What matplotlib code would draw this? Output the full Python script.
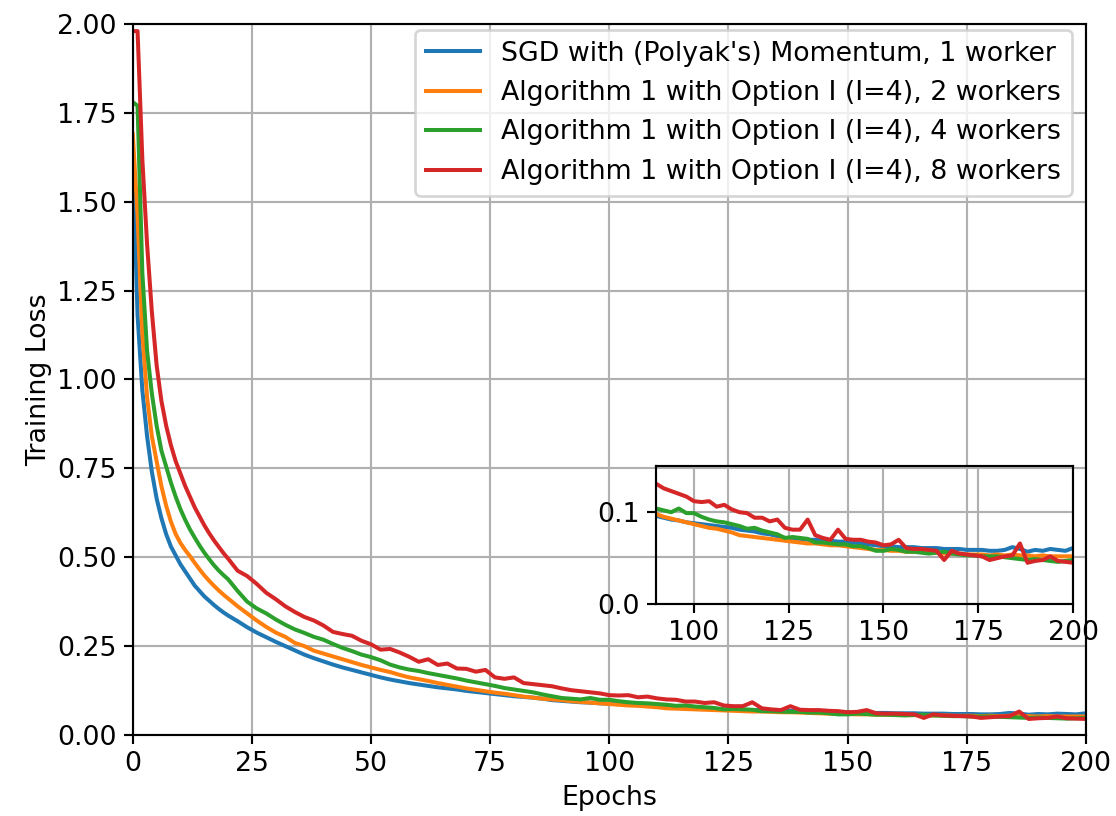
import matplotlib
matplotlib.use("Agg")
import matplotlib.pyplot as plt

# epochs: every epoch at the start, then every 2 epochs
epochs = list(range(0, 20)) + list(range(20, 201, 2))

loss_sgd = [1.63, 1.18, 0.97, 0.84, 0.74, 0.665, 0.61, 0.565, 0.53, 0.505,
            0.48, 0.46, 0.44, 0.42, 0.405, 0.39, 0.378, 0.366, 0.355, 0.345,
            0.336, 0.32, 0.303, 0.288, 0.275, 0.262, 0.25, 0.238, 0.226, 0.216,
            0.207, 0.198, 0.19, 0.183, 0.176, 0.169, 0.162, 0.156, 0.151, 0.146,
            0.142, 0.138, 0.134, 0.131, 0.128, 0.124, 0.121, 0.118, 0.115, 0.112,
            0.109, 0.107, 0.105, 0.102, 0.098, 0.096, 0.094, 0.092, 0.091, 0.089,
            0.088, 0.087, 0.086, 0.085, 0.084, 0.083, 0.081, 0.080, 0.079, 0.077,
            0.076, 0.074, 0.072, 0.071, 0.071, 0.070, 0.070, 0.069, 0.069, 0.068,
            0.068, 0.067, 0.066, 0.065, 0.064, 0.063, 0.063, 0.062, 0.062, 0.062,
            0.061, 0.061, 0.061, 0.060, 0.060, 0.060, 0.059, 0.059, 0.059, 0.058,
            0.058, 0.059, 0.062, 0.060, 0.057, 0.059, 0.058, 0.060, 0.059, 0.058,
            0.061]

loss_2w = [1.69, 1.46, 1.13, 0.95, 0.84, 0.77, 0.70, 0.645, 0.60, 0.565,
           0.54, 0.52, 0.503, 0.484, 0.466, 0.449, 0.434, 0.42, 0.407, 0.395,
           0.384, 0.362, 0.342, 0.322, 0.304, 0.288, 0.276, 0.259, 0.250, 0.237,
           0.229, 0.221, 0.213, 0.205, 0.197, 0.190, 0.183, 0.177, 0.169, 0.162,
           0.157, 0.152, 0.146, 0.141, 0.136, 0.131, 0.127, 0.123, 0.119, 0.116,
           0.112, 0.108, 0.105, 0.102, 0.100, 0.098, 0.095, 0.093, 0.091, 0.089,
           0.087, 0.085, 0.083, 0.082, 0.080, 0.078, 0.075, 0.074, 0.073, 0.072,
           0.071, 0.070, 0.069, 0.068, 0.067, 0.066, 0.066, 0.065, 0.064, 0.064,
           0.063, 0.062, 0.061, 0.060, 0.059, 0.059, 0.058, 0.058, 0.057, 0.057,
           0.057, 0.056, 0.056, 0.055, 0.055, 0.055, 0.054, 0.054, 0.054, 0.053,
           0.054, 0.053, 0.054, 0.053, 0.053, 0.052, 0.053, 0.052, 0.052, 0.052,
           0.052]

loss_4w = [1.78, 1.77, 1.30, 1.08, 0.96, 0.87, 0.80, 0.755, 0.71, 0.67,
           0.635, 0.605, 0.578, 0.555, 0.533, 0.513, 0.495, 0.478, 0.463, 0.45,
           0.438, 0.405, 0.375, 0.356, 0.342, 0.325, 0.31, 0.297, 0.287, 0.276,
           0.268, 0.256, 0.245, 0.236, 0.226, 0.219, 0.21, 0.198, 0.19, 0.184,
           0.18, 0.174, 0.169, 0.164, 0.159, 0.153, 0.148, 0.143, 0.138, 0.132,
           0.128, 0.124, 0.12, 0.114, 0.109, 0.104, 0.102, 0.100, 0.104, 0.099,
           0.099, 0.095, 0.092, 0.090, 0.089, 0.087, 0.085, 0.082, 0.083, 0.080,
           0.078, 0.076, 0.072, 0.073, 0.072, 0.071, 0.067, 0.067, 0.066, 0.065,
           0.065, 0.063, 0.063, 0.061, 0.058, 0.058, 0.060, 0.059, 0.057, 0.057,
           0.056, 0.055, 0.056, 0.057, 0.055, 0.054, 0.053, 0.053, 0.052, 0.052,
           0.052, 0.051, 0.050, 0.049, 0.048, 0.049, 0.048, 0.047, 0.046, 0.047,
           0.048]

loss_8w = [1.98, 1.98, 1.62, 1.38, 1.19, 1.04, 0.94, 0.87, 0.815, 0.77,
           0.735, 0.70, 0.67, 0.64, 0.615, 0.59, 0.568, 0.548, 0.53, 0.512,
           0.496, 0.462, 0.447, 0.425, 0.40, 0.382, 0.362, 0.346, 0.332, 0.322,
           0.308, 0.29, 0.284, 0.279, 0.265, 0.255, 0.24, 0.242, 0.232, 0.22,
           0.206, 0.213, 0.197, 0.201, 0.187, 0.186, 0.178, 0.183, 0.162, 0.158,
           0.162, 0.146, 0.143, 0.14, 0.137, 0.131, 0.126, 0.123, 0.12, 0.117,
           0.112, 0.111, 0.112, 0.106, 0.108, 0.103, 0.1, 0.099, 0.094, 0.094,
           0.09, 0.092, 0.083, 0.081, 0.081, 0.092, 0.075, 0.072, 0.07, 0.081,
           0.071, 0.07, 0.07, 0.068, 0.067, 0.064, 0.065, 0.07, 0.061, 0.06,
           0.06, 0.059, 0.058, 0.048, 0.058, 0.055, 0.054, 0.053, 0.052, 0.048,
           0.05, 0.052, 0.053, 0.066, 0.045, 0.047, 0.048, 0.052, 0.047, 0.046,
           0.045]

labels = ["SGD with (Polyak's) Momentum, 1 worker",
          "Algorithm 1 with Option I (I=4), 2 workers",
          "Algorithm 1 with Option I (I=4), 4 workers",
          "Algorithm 1 with Option I (I=4), 8 workers"]
series = [loss_sgd, loss_2w, loss_4w, loss_8w]
colors = ["#1f77b4", "#ff7f0e", "#2ca02c", "#d62728"]

fig = plt.figure(figsize=(1116 / 193, 816 / 193), dpi=193)
ax = fig.add_axes([0.119, 0.0993, 0.854, 0.8713])

for vals, lab, c in zip(series, labels, colors):
    ax.plot(epochs, vals, color=c, label=lab)

ax.set_xlim(0, 200)
ax.set_ylim(0, 2.0)
ax.set_xticks(range(0, 201, 25))
ax.set_yticks([0, 0.25, 0.5, 0.75, 1.0, 1.25, 1.5, 1.75, 2.0])
ax.set_yticklabels(["0.00", "0.25", "0.50", "0.75", "1.00", "1.25", "1.50", "1.75", "2.00"])
ax.tick_params(pad=2.5)
ax.grid(True)
ax.set_xlabel("Epochs", labelpad=3)
ax.set_ylabel("Training Loss", labelpad=2)
ax.legend(loc="upper right", bbox_to_anchor=(0.9853, 0.9916), borderaxespad=0)

# zoomed inset for the tail
axin = ax.inset_axes([0.549, 0.184, 0.4375, 0.194])
axin.set_facecolor("none")
for vals, c in zip(series, colors):
    axin.plot(epochs, vals, color=c)
axin.set_xlim(90, 200)
axin.set_ylim(0, 0.15)
axin.set_xticks([100, 125, 150, 175, 200])
axin.set_yticks([0.0, 0.1])
axin.tick_params(pad=2.5)
axin.grid(True)

fig.savefig("out.png", dpi=193)
